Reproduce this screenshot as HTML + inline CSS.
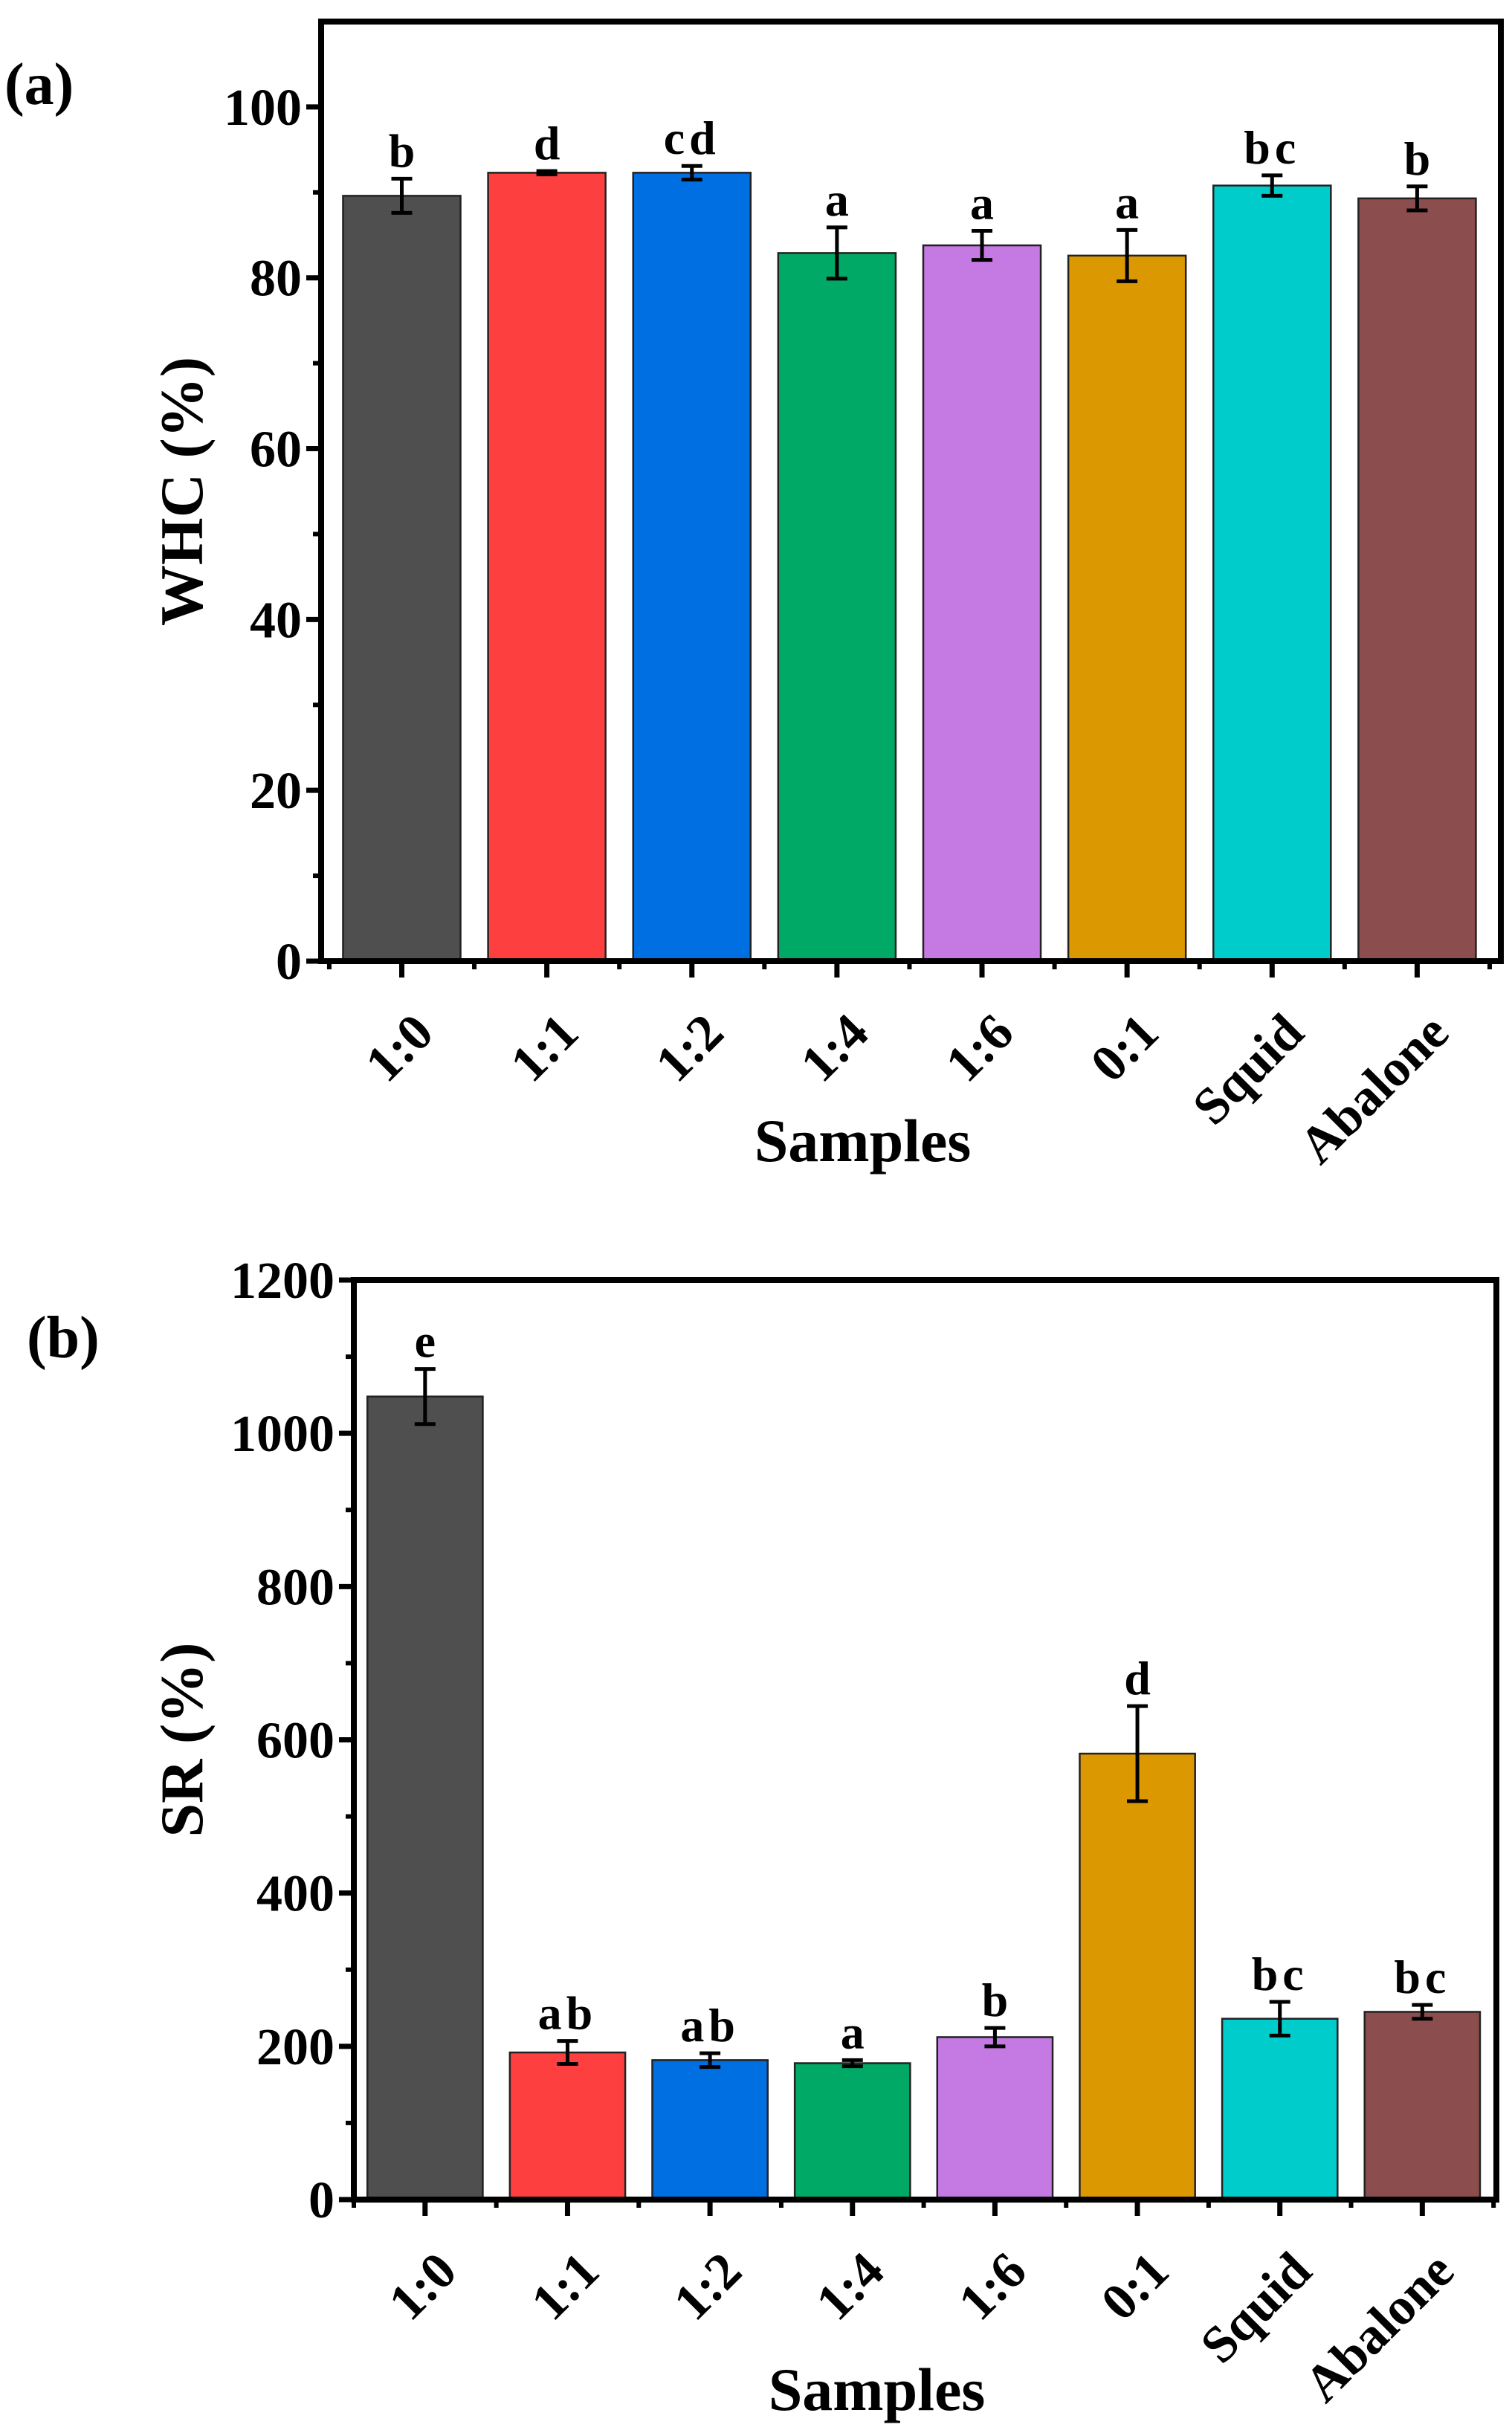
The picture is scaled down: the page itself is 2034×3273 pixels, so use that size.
<!DOCTYPE html>
<html><head><meta charset="utf-8"><style>
html,body{margin:0;padding:0;background:#fff;}
svg{display:block;}
text{font-family:"Liberation Serif",serif;font-weight:bold;fill:#000;}
</style></head><body>
<svg id="fig" width="2034" height="3273" viewBox="0 0 2034 3273" xmlns="http://www.w3.org/2000/svg">
<text x="6" y="140" font-size="80">(a)</text>
<text x="36" y="1826" font-size="80">(b)</text>
<g id="chartA"></g>
<g id="chartB"></g>
</svg>
<script>
const categories = ["1:0","1:1","1:2","1:4","1:6","0:1","Squid","Abalone"];
const colors = ["#4f4f4f","#fd3f3f","#006fe2","#00aa66","#c57ae3","#dc9800","#00cccc","#8b4d4d"];
const whcValues = [89.6,92.3,92.3,82.9,83.8,82.6,90.8,89.3];
const whcErrors = [2.0,0.2,0.8,3.0,1.7,3.0,1.2,1.4];
const whcLetters = ["b","d","cd","a","a","a","bc","b"];
const whcTicks = [0,20,40,60,80,100];
const srValues = [1048,192,182,178,212,582,236,245];
const srErrors = [36,15,9,4,12,62,22,9];
const srLetters = ["e","ab","ab","a","b","d","bc","bc"];
const srTicks = [0,200,400,600,800,1000,1200];

const NS = "http://www.w3.org/2000/svg";
function mk(parent, tag, attrs){
  const e = document.createElementNS(NS, tag);
  for (const k in attrs) e.setAttribute(k, attrs[k]);
  parent.appendChild(e);
  return e;
}

function drawChart(g, cfg){
  const {left,right,top,bottom,ymax,values,errors,letters,ticks,minorStep,ytitle,ytitleX,samplesY,key,lo,hi} = cfg;
  const n = categories.length;
  const xs = i => left + (i - lo) / (hi - lo) * (right - left);
  const ys = v => bottom - v / ymax * (bottom - top);
  const step = xs(1) - xs(0);
  const bw = step * 0.81;

  for (let i = 0; i < n; i++){
    const b = mk(g, "rect", {x: xs(i) - bw/2, y: ys(values[i]), width: bw, height: bottom - ys(values[i]), fill: colors[i], stroke: "#222", "stroke-width": 2.5});
    
    
    const eg = mk(g, "g", {stroke: "#000", "stroke-width": 5});
    
    
    const yt = ys(values[i] + errors[i]), yb = ys(values[i] - errors[i]);
    mk(eg, "line", {x1: xs(i), x2: xs(i), y1: yt, y2: yb});
    mk(eg, "line", {x1: xs(i) - 14, x2: xs(i) + 14, y1: yt, y2: yt});
    mk(eg, "line", {x1: xs(i) - 14, x2: xs(i) + 14, y1: yb, y2: yb});
    const lt = mk(g, "text", {x: xs(i), y: yt - 16, "font-size": 64, "text-anchor": "middle", "letter-spacing": letters[i].length > 1 ? 6 : 0});
    lt.textContent = letters[i];
    
    
    mk(g, "line", {x1: xs(i), x2: xs(i), y1: bottom, y2: bottom + 22, stroke: "#000", "stroke-width": 7});
    const ex = xs(i) + 46, ey = bottom + 100;
    const tl = mk(g, "text", {x: ex, y: ey, "font-size": 70, "text-anchor": "end", transform: `rotate(-45 ${ex} ${ey})`});
    tl.textContent = categories[i];
    
    
  }
  for (let i = 0; i <= n; i++){
    mk(g, "line", {x1: xs(i - 0.5), x2: xs(i - 0.5), y1: bottom, y2: bottom + 11, stroke: "#000", "stroke-width": 6});
  }
  for (const t of ticks){
    mk(g, "line", {x1: left - 20, x2: left, y1: ys(t), y2: ys(t), stroke: "#000", "stroke-width": 7});
    const tl = mk(g, "text", {x: left - 26, y: ys(t) + 24, "font-size": 70, "text-anchor": "end"});
    tl.textContent = t;
    
    
  }
  for (let v = minorStep; v < ymax; v += 2*minorStep){
    mk(g, "line", {x1: left - 11, x2: left, y1: ys(v), y2: ys(v), stroke: "#000", "stroke-width": 6});
  }
  const fr = mk(g, "rect", {x: left, y: top, width: right - left, height: bottom - top, fill: "none", stroke: "#000", "stroke-width": 8});
  
  
  const yt = mk(g, "text", {x: ytitleX, y: (top + bottom) / 2, "font-size": 82, "text-anchor": "middle", transform: `rotate(-90 ${ytitleX} ${(top+bottom)/2})`});
  yt.textContent = ytitle;
  
  
  const xt = mk(g, "text", {x: (left + right) / 2 - 65, y: samplesY, "font-size": 82, "text-anchor": "middle"});
  xt.textContent = "Samples";
  
  
}

drawChart(document.getElementById("chartA"), {left:432,right:2019,top:29,bottom:1293,ymax:110,values:whcValues,errors:whcErrors,letters:whcLetters,ticks:whcTicks,minorStep:10,ytitle:"WHC (%)",ytitleX:272,samplesY:1562,key:"whc",lo:-0.556,hi:7.577});
drawChart(document.getElementById("chartB"), {left:476,right:2013,top:1722,bottom:2959,ymax:1200,values:srValues,errors:srErrors,letters:srLetters,ticks:srTicks,minorStep:100,ytitle:"SR (%)",ytitleX:272,samplesY:3242,key:"sr",lo:-0.50,hi:7.52});
</script>
</body></html>
